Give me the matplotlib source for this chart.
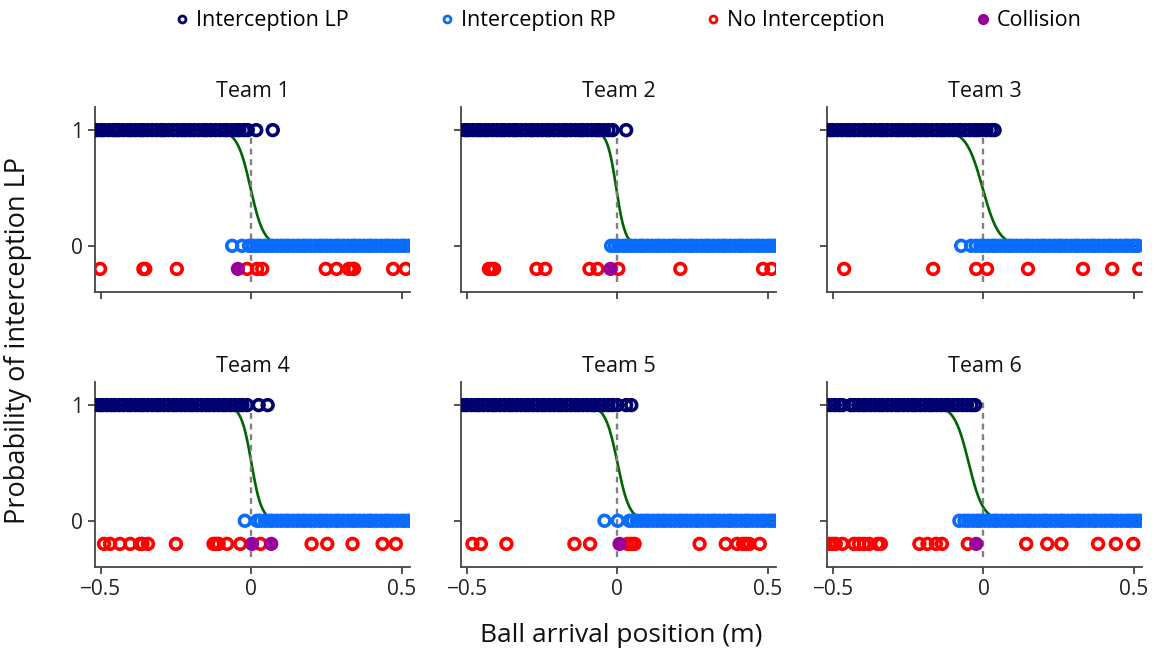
import matplotlib
matplotlib.use("Agg")
import matplotlib.pyplot as plt
from matplotlib.lines import Line2D
import numpy as np

plt.rcParams['font.family'] = ['Open Sans', 'DejaVu Sans']

teams = ["Team 1", "Team 2", "Team 3", "Team 4", "Team 5", "Team 6"]

# ball arrival positions (m) per team, by outcome
lp_x = [
    [-0.515, -0.5, -0.49, -0.475, -0.46, -0.45, -0.44, -0.425, -0.41, -0.4, -0.385, -0.37,
     -0.36, -0.345, -0.33, -0.315, -0.3, -0.29, -0.275, -0.26, -0.245, -0.23, -0.22, -0.205,
     -0.19, -0.175, -0.16, -0.15, -0.135, -0.12, -0.105, -0.09, -0.08, -0.065, -0.05, -0.04,
     -0.025, -0.012, 0.016, 0.071],
    [-0.52, -0.505, -0.495, -0.48, -0.465, -0.455, -0.44, -0.43, -0.415, -0.4, -0.385, -0.375,
     -0.36, -0.345, -0.335, -0.32, -0.305, -0.29, -0.28, -0.265, -0.25, -0.235, -0.225, -0.21,
     -0.195, -0.18, -0.17, -0.155, -0.14, -0.125, -0.115, -0.1, -0.085, -0.07, -0.06, -0.045,
     -0.03, -0.016, 0.029],
    [-0.525, -0.51, -0.5, -0.485, -0.47, -0.455, -0.445, -0.43, -0.415, -0.4, -0.39, -0.375,
     -0.36, -0.345, -0.335, -0.32, -0.305, -0.29, -0.28, -0.265, -0.25, -0.235, -0.225, -0.21,
     -0.195, -0.185, -0.17, -0.155, -0.14, -0.13, -0.115, -0.1, -0.085, -0.075, -0.06, -0.045,
     -0.03, -0.02, -0.005, 0.01, 0.025, 0.037],
    [-0.52, -0.505, -0.495, -0.48, -0.465, -0.455, -0.44, -0.425, -0.41, -0.4, -0.385, -0.37,
     -0.36, -0.345, -0.33, -0.315, -0.305, -0.29, -0.275, -0.26, -0.25, -0.235, -0.22, -0.205,
     -0.195, -0.18, -0.165, -0.15, -0.14, -0.125, -0.11, -0.095, -0.085, -0.07, -0.055, -0.04,
     -0.03, -0.014, 0.024, 0.054],
    [-0.526, -0.51, -0.5, -0.485, -0.47, -0.46, -0.445, -0.43, -0.415, -0.405, -0.39, -0.375,
     -0.36, -0.35, -0.335, -0.32, -0.305, -0.295, -0.28, -0.265, -0.25, -0.24, -0.225, -0.21,
     -0.195, -0.185, -0.17, -0.155, -0.14, -0.13, -0.115, -0.1, -0.085, -0.075, -0.06, -0.045,
     -0.03, -0.016, 0.0, 0.029, 0.046],
    [-0.525, -0.51, -0.495, -0.48, -0.469, -0.441, -0.43, -0.415, -0.4, -0.39, -0.375, -0.36,
     -0.345, -0.335, -0.32, -0.305, -0.29, -0.28, -0.265, -0.25, -0.235, -0.225, -0.21, -0.195,
     -0.18, -0.17, -0.155, -0.14, -0.125, -0.115, -0.1, -0.085, -0.07, -0.055, -0.04, -0.028],
]
rp_x = [
    [-0.064, -0.031, -0.008, 0.005, 0.018, 0.03, 0.045, 0.06, 0.07, 0.085, 0.1, 0.115, 0.125,
     0.14, 0.155, 0.17, 0.18, 0.195, 0.21, 0.225, 0.235, 0.25, 0.265, 0.28, 0.29, 0.305, 0.32,
     0.335, 0.345, 0.36, 0.375, 0.39, 0.4, 0.415, 0.43, 0.445, 0.455, 0.47, 0.485, 0.5, 0.51,
     0.525],
    [-0.021, -0.008, 0.005, 0.02, 0.03, 0.045, 0.06, 0.075, 0.085, 0.1, 0.115, 0.13, 0.14, 0.155,
     0.17, 0.185, 0.195, 0.21, 0.225, 0.24, 0.25, 0.265, 0.28, 0.295, 0.305, 0.32, 0.335, 0.35,
     0.36, 0.375, 0.39, 0.405, 0.415, 0.43, 0.445, 0.46, 0.47, 0.485, 0.5, 0.51, 0.523],
    [-0.074, -0.041, -0.025, -0.01, 0.0, 0.015, 0.03, 0.04, 0.055, 0.07, 0.085, 0.095, 0.11,
     0.125, 0.14, 0.15, 0.165, 0.18, 0.195, 0.205, 0.22, 0.235, 0.25, 0.26, 0.275, 0.29, 0.305,
     0.315, 0.33, 0.345, 0.36, 0.37, 0.385, 0.4, 0.415, 0.425, 0.44, 0.455, 0.47, 0.48, 0.495,
     0.505, 0.514],
    [-0.022, 0.019, 0.03, 0.045, 0.06, 0.07, 0.085, 0.1, 0.115, 0.125, 0.14, 0.155, 0.17, 0.18,
     0.195, 0.21, 0.225, 0.235, 0.25, 0.265, 0.28, 0.29, 0.305, 0.32, 0.335, 0.345, 0.36, 0.375,
     0.39, 0.4, 0.415, 0.43, 0.445, 0.455, 0.47, 0.485, 0.5, 0.51, 0.524],
    [-0.043, 0.001, 0.04, 0.05, 0.065, 0.08, 0.095, 0.105, 0.12, 0.135, 0.15, 0.16, 0.175, 0.19,
     0.205, 0.215, 0.23, 0.245, 0.26, 0.27, 0.285, 0.3, 0.315, 0.325, 0.34, 0.355, 0.37, 0.38,
     0.395, 0.41, 0.425, 0.435, 0.45, 0.465, 0.48, 0.49, 0.505, 0.515, 0.525],
    [-0.08, -0.063, -0.05, -0.035, -0.02, -0.01, 0.005, 0.02, 0.035, 0.045, 0.06, 0.075, 0.09,
     0.1, 0.115, 0.13, 0.145, 0.155, 0.17, 0.185, 0.2, 0.21, 0.225, 0.24, 0.255, 0.265, 0.28,
     0.295, 0.31, 0.32, 0.335, 0.35, 0.365, 0.375, 0.39, 0.405, 0.42, 0.43, 0.445, 0.46, 0.475,
     0.485, 0.5, 0.51, 0.52],
]
miss_x = [
    [-0.503, -0.359, -0.353, -0.248, -0.014, 0.019, 0.036, 0.247, 0.283, 0.324, 0.336, 0.341,
     0.471, 0.513],
    [-0.427, -0.418, -0.41, -0.269, -0.24, -0.093, -0.066, 0.003, 0.209, 0.484, 0.512],
    [-0.463, -0.167, -0.024, 0.012, 0.148, 0.331, 0.428, 0.518],
    [-0.49, -0.47, -0.437, -0.403, -0.37, -0.362, -0.344, -0.251, -0.126, -0.117, -0.109,
     -0.081, -0.037, 0.03, 0.2, 0.252, 0.336, 0.436, 0.48],
    [-0.482, -0.454, -0.369, -0.143, -0.091, 0.034, 0.046, 0.057, 0.273, 0.36, 0.398, 0.418,
     0.427, 0.438, 0.473],
    [-0.513, -0.502, -0.491, -0.469, -0.43, -0.413, -0.397, -0.38, -0.352, -0.341, -0.213,
     -0.186, -0.158, -0.138, -0.052, 0.142, 0.212, 0.259, 0.381, 0.44, 0.498],
]
collision_x = [
    [-0.045],
    [-0.023],
    [],
    [0.002, 0.066],
    [0.007],
    [-0.024],
]

# fitted logistic curve per team: centre and scale (m)
fit_mu = [-0.003, -0.004, -0.003, 0.0, 0.0, -0.049]
fit_s = [0.022, 0.015, 0.027, 0.017, 0.02, 0.024]

c_lp = '#00006e'
c_rp = '#0a6cff'
c_miss = '#ff0000'
c_col = '#990099'
c_fit = '#006400'

fig, axes = plt.subplots(2, 3, figsize=(11.54, 6.54), dpi=100, sharex=True, sharey=True)
fig.subplots_adjust(left=0.0823, right=0.9896, top=0.8364, bottom=0.133,
                    wspace=0.162, hspace=0.486)

ms = 60
lw = 2.6
xs = np.linspace(-0.52, 0.53, 400)

for i, ax in enumerate(axes.flat):
    curve = 1.0 / (1.0 + np.exp((xs - fit_mu[i]) / fit_s[i]))
    ax.plot(xs, curve, color=c_fit, lw=1.9, zorder=1)
    ax.axvline(0, ymin=0.056, ymax=0.91, color='#808080', ls=(0, (2.5, 2)), lw=1.7, zorder=1.5)
    ax.scatter(lp_x[i], np.ones(len(lp_x[i])), s=ms, facecolors='none',
               edgecolors=c_lp, linewidths=lw, zorder=3)
    ax.scatter(rp_x[i], np.zeros(len(rp_x[i])), s=ms, facecolors='none',
               edgecolors=c_rp, linewidths=lw, zorder=3)
    ax.scatter(miss_x[i], np.full(len(miss_x[i]), -0.2), s=ms, facecolors='none',
               edgecolors=c_miss, linewidths=lw, zorder=3)
    if collision_x[i]:
        ax.scatter(collision_x[i], np.full(len(collision_x[i]), -0.2), s=105,
                   color=c_col, edgecolors='none', zorder=4)

    ax.set_xlim(-0.52, 0.527)
    ax.set_ylim(-0.4, 1.2)
    ax.set_xticks([-0.5, 0, 0.5])
    ax.set_xticklabels(['\u22120.5', '0', '0.5'])
    ax.set_yticks([0, 1])
    ax.set_yticklabels(['0', '1'])
    for side in ['top', 'right']:
        ax.spines[side].set_visible(False)
    for side in ['left', 'bottom']:
        ax.spines[side].set_color('#444444')
        ax.spines[side].set_linewidth(1.3)
    ax.tick_params(colors='#444444', labelcolor='#222222', labelsize=15,
                   length=5, width=1.3, direction='out')
    ax.set_title(teams[i], fontsize=15.5, pad=7, color='#111111')

fig.text(0.5386, 0.029, 'Ball arrival position (m)', ha='center', va='center',
         fontsize=19, color='#111111')
fig.text(0.0156, 0.48, 'Probability of interception LP', ha='center', va='center',
         rotation=90, fontsize=19.5, color='#111111')

handles = [
    Line2D([], [], ls='none', marker='o', mfc='none', mec=c_lp, mew=2.0, ms=5),
    Line2D([], [], ls='none', marker='o', mfc='none', mec=c_rp, mew=2.0, ms=5),
    Line2D([], [], ls='none', marker='o', mfc='none', mec=c_miss, mew=2.0, ms=5),
    Line2D([], [], ls='none', marker='o', mfc=c_col, mec=c_col, ms=7),
]
labels = ['Interception LP', 'Interception RP', 'No Interception', 'Collision']
fig.legend(handles, labels, loc='center', bbox_to_anchor=(0.545, 0.968), ncol=4,
           frameon=False, fontsize=15.5, columnspacing=4.25, handletextpad=0.35,
           handlelength=0.6)

fig.savefig('out.png', dpi=100)
